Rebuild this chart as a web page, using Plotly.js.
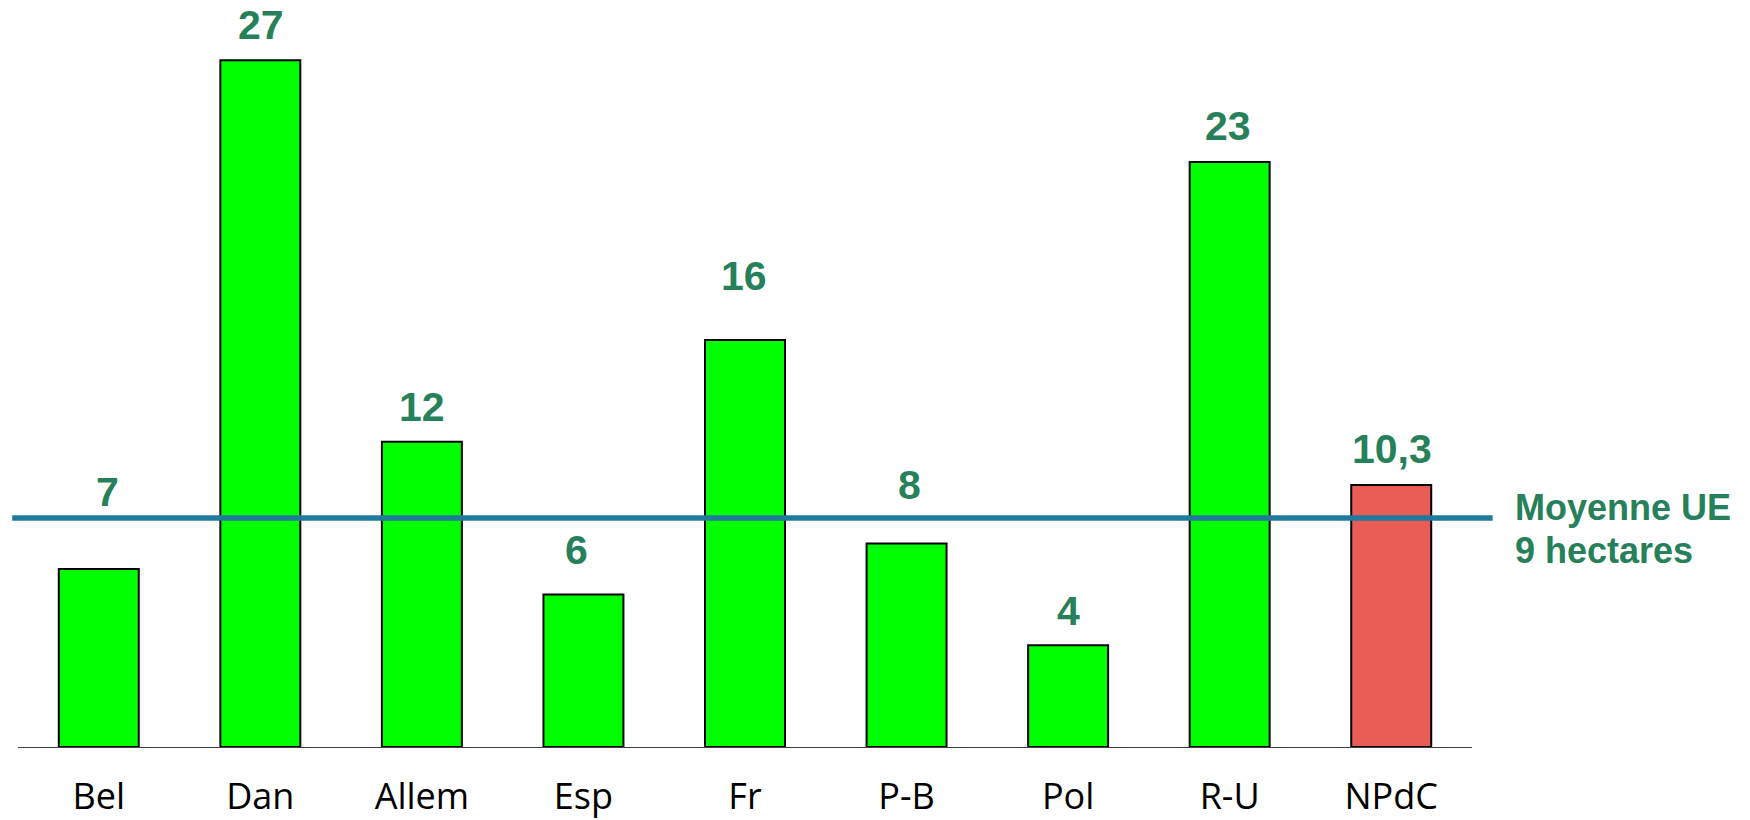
<!DOCTYPE html>
<html>
<head>
<meta charset="utf-8">
<script src="https://cdn.plot.ly/plotly-3.0.1.min.js"></script>
<style>
  html, body { margin: 0; padding: 0; background: #ffffff; }
  #chart { width: 1750px; height: 820px; }
</style>
</head>
<body>
<div id="chart"></div>
<script>
// Surface moyenne par exploitation (hectares)
const categories = ['Bel', 'Dan', 'Allem', 'Esp', 'Fr', 'P-B', 'Pol', 'R-U', 'NPdC'];
const values = [7, 27, 12, 6, 16, 8, 4, 23, 10.3];
const highlighted = 'NPdC';
const euAverage = 9;
const euAverageLabel = ['Moyenne UE', '9 hectares'];

// Styling
const GREEN_BAR = '#00ff00';
const RED_BAR = '#e85e57';
const LABEL_GREEN = '#26805a';
const LINE_BLUE = '#1f7a9c';

// Pixel nudges of the value labels above their bars (x, y)
const labelNudgeX = [8.4, 0.5, 0.5, -6.5, -1.2, 2.5, 0, -1.8, 0.5];
const labelNudgeY = [76.9, 35.3, 34.6, 44.0, 63.8, 58.1, 34.2, 36.4, 35.6];

const fmt = v => String(v).replace('.', ',');

const trace = {
  type: 'bar',
  x: categories,
  y: values,
  marker: {
    color: categories.map(c => c === highlighted ? RED_BAR : GREEN_BAR),
    line: { color: '#000000', width: 2 }
  },
  hoverinfo: 'skip'
};

const valueLabels = categories.map((c, i) => ({
  x: c,
  y: values[i],
  xref: 'x',
  yref: 'y',
  text: fmt(values[i]),
  showarrow: false,
  xanchor: 'center',
  yanchor: 'middle',
  xshift: labelNudgeX[i],
  yshift: labelNudgeY[i],
  font: { family: 'Liberation Sans, Arial, sans-serif', size: 41, color: LABEL_GREEN, weight: 'bold' }
}));

const avgLabels = euAverageLabel.map((t, i) => ({
  x: 1.028,
  y: euAverage,
  xref: 'paper',
  yref: 'y',
  text: '<b>' + t + '</b>',
  showarrow: false,
  xanchor: 'left',
  yanchor: 'middle',
  yshift: i === 0 ? 11 : -32.3,
  font: { family: 'Liberation Sans, Arial, sans-serif', size: 36, color: LABEL_GREEN }
}));

const layout = {
  width: 1750,
  height: 820,
  margin: { l: 17.5, r: 277.7, t: 0, b: 72.5, pad: 0 },
  paper_bgcolor: '#ffffff',
  plot_bgcolor: '#ffffff',
  showlegend: false,
  bargap: 0.505,
  xaxis: {
    type: 'category',
    range: [-0.5, categories.length - 0.5],
    showgrid: false,
    zeroline: false,
    showline: true,
    linecolor: '#404040',
    linewidth: 1,
    ticks: '',
    ticklabelstandoff: 18,
    tickfont: { family: 'Open Sans, sans-serif', size: 36, color: '#000000' },
    automargin: false,
    fixedrange: true
  },
  yaxis: {
    range: [0, 29.37],
    showgrid: false,
    zeroline: false,
    showline: false,
    showticklabels: false,
    ticks: '',
    automargin: false,
    fixedrange: true
  },
  shapes: [{
    type: 'line',
    xref: 'paper',
    yref: 'y',
    x0: -0.004,
    x1: 1.0142,
    y0: euAverage,
    y1: euAverage,
    layer: 'above',
    line: { color: LINE_BLUE, width: 5.5 }
  }],
  annotations: valueLabels.concat(avgLabels)
};

Plotly.newPlot('chart', [trace], layout, { displayModeBar: false, staticPlot: true });
</script>
</body>
</html>
